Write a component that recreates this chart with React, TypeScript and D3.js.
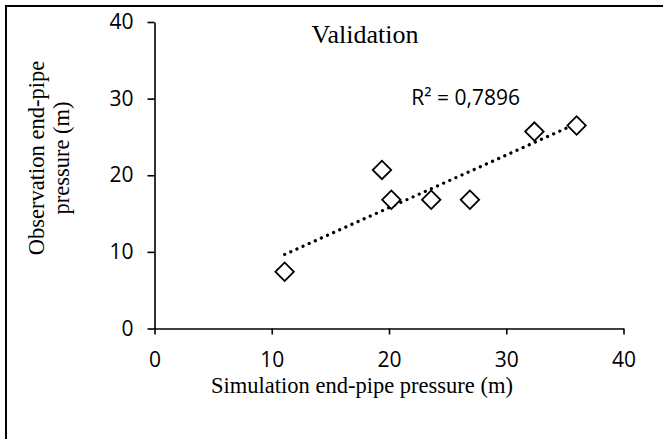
import * as d3 from "d3";
import { useEffect, useRef } from "react";

// simulated vs observed end-pipe pressure (m)
const simulated = [11.1, 19.4, 20.2, 23.6, 26.9, 32.4, 36.0];
const observed = [7.4, 20.7, 16.8, 16.8, 16.8, 25.7, 26.5];
const xTicks = [0, 10, 20, 30, 40];
const yTicks = [0, 10, 20, 30, 40];
const r2Label = "R² = 0,7896";

const W = 663;
const H = 439;
const serif = "'Liberation Serif', 'Times New Roman', serif";
const sans = "'Open Sans', 'Noto Sans', sans-serif";

export default function App() {
  const ref = useRef<SVGSVGElement>(null);

  useEffect(() => {
    const svg = d3.select(ref.current);
    svg.selectAll("*").remove();

    const x = d3.scaleLinear().domain([0, 40]).range([154.5, 623.5]);
    const y = d3.scaleLinear().domain([0, 40]).range([328.5, 22]);

    // outer frame (only left + top are visible in the crop)
    svg
      .append("path")
      .attr("d", `M6,${H + 2}V6H${W + 2}`)
      .attr("fill", "none")
      .attr("stroke", "#000")
      .attr("stroke-width", 2);

    // x axis
    const gx = svg
      .append("g")
      .attr("transform", `translate(0,${y(0)})`)
      .call(d3.axisBottom(x).tickValues(xTicks).tickSize(6).tickSizeOuter(0).tickPadding(18));
    gx.select(".domain").attr("stroke-width", 1.6);
    gx.selectAll(".tick line").attr("stroke-width", 1.6);
    gx.selectAll("text").attr("font-family", sans).attr("font-size", 21).attr("fill", "#000");

    // y axis
    const gy = svg
      .append("g")
      .attr("transform", `translate(${x(0)},0)`)
      .call(d3.axisLeft(y).tickValues(yTicks).tickSize(7).tickSizeOuter(0).tickPadding(14));
    gy.select(".domain").attr("stroke-width", 1.6);
    gy.selectAll(".tick line").attr("stroke-width", 1.6);
    gy.selectAll("text").attr("font-family", sans).attr("font-size", 21).attr("fill", "#000");

    // linear trendline from least squares fit
    const mx = d3.mean(simulated)!;
    const my = d3.mean(observed)!;
    const sxy = d3.sum(simulated, (v, i) => (v - mx) * (observed[i] - my));
    const sxx = d3.sum(simulated, (v) => (v - mx) ** 2);
    const slope = sxy / sxx;
    const icpt = my - slope * mx;
    const [x0, x1] = d3.extent(simulated) as [number, number];
    const line = d3
      .line<number>()
      .x((d) => x(d))
      .y((d) => y(icpt + slope * d));
    svg
      .append("path")
      .datum([x0, x1])
      .attr("d", line)
      .attr("fill", "none")
      .attr("stroke", "#000")
      .attr("stroke-width", 3.2)
      .attr("stroke-linecap", "round")
      .attr("stroke-dasharray", "0.1 6.6");

    // diamond markers
    const sym = d3.symbol().type(d3.symbolSquare).size(170);
    svg
      .append("g")
      .selectAll("path")
      .data(simulated)
      .join("path")
      .attr("d", sym)
      .attr("transform", (d, i) => `translate(${x(d)},${y(observed[i])}) rotate(45)`)
      .attr("fill", "#fff")
      .attr("stroke", "#000")
      .attr("stroke-width", 1.8);

    // labels
    svg
      .append("text")
      .attr("x", 520)
      .attr("y", 105)
      .attr("text-anchor", "end")
      .attr("font-family", sans)
      .attr("font-size", 21)
      .text(r2Label);

    svg
      .append("text")
      .attr("x", 365)
      .attr("y", 43)
      .attr("text-anchor", "middle")
      .attr("font-family", serif)
      .attr("font-size", 26)
      .text("Validation");

    svg
      .append("text")
      .attr("x", 362)
      .attr("y", 393)
      .attr("text-anchor", "middle")
      .attr("font-family", serif)
      .attr("font-size", 22.5)
      .text("Simulation end-pipe pressure (m)");

    const yt = svg
      .append("text")
      .attr("transform", "translate(44,158) rotate(-90)")
      .attr("text-anchor", "middle")
      .attr("font-family", serif)
      .attr("font-size", 22.5);
    yt.append("tspan").attr("x", 0).attr("y", 0).text("Observation end-pipe");
    yt.append("tspan").attr("x", 0).attr("y", 25).text("pressure (m)");
  }, []);

  return (
    <svg
      ref={ref}
      width={W}
      height={H}
      style={{ position: "absolute", left: 0, top: 0, background: "#fff" }}
    />
  );
}
